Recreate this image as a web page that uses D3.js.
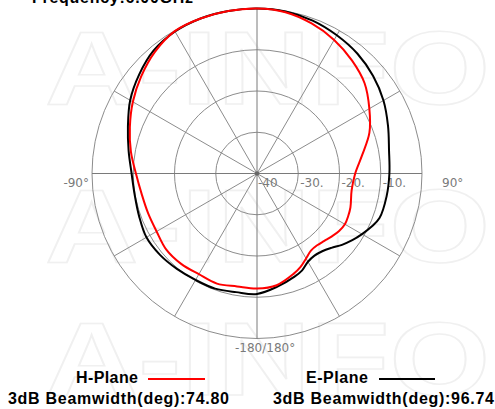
<!DOCTYPE html>
<html>
<head>
<meta charset="utf-8">
<script src="https://cdn.jsdelivr.net/npm/d3@7"></script>
<style>
  html, body { margin: 0; padding: 0; background: #ffffff; }
  svg { display: block; }
</style>
</head>
<body>
<svg id="chart" width="495" height="409"></svg>
<script>
// ---------------- data ----------------
const titleText = "Frequency:6.00GHz";
const angleDeg = [0, 10, 20, 30, 40, 50, 60, 70, 80, 90, 100, 110, 115, 120, 125, 130, 135, 140, 145, 150, 155, 160, 170, 180,
                  190, 200, 210, 220, 230, 240, 250, 260, 270, 280, 290, 300, 310, 320, 330, 340, 350];
const hPlaneDb = [0, -0.3, -1.3, -2.6, -4.2, -5.95, -8.55, -11.0, -14.1, -16.2, -16.7, -15.9, -15.6, -15.4, -15.7, -16.3, -16.9, -17.3, -17.2, -16.2, -15.0, -14.1, -12.5, -12.1,
                  -12.2, -11.6, -11.8, -11.4, -11.3, -11.9, -11.9, -11.6, -10.65, -8.95, -7.2, -5.25, -3.35, -1.5, -0.15, 0, 0];
const ePlaneDb = [0, -0.1, -0.55, -1.3, -2.1, -3.25, -4.6, -6.2, -7.5, -7.9, -8.1, -8.4, -9.4, -10.6, -11.8, -13.1, -14.5, -15.4, -15.7, -15.3, -14.1, -13.4, -12.1, -10.8,
                  -10.8, -10.3, -10.2, -9.8, -9.3, -9.05, -9.6, -9.9, -9.6, -8.4, -6.7, -4.5, -2.7, -1.05, -0.25, 0, 0];
const ringDb = [-30, -20, -10, 0];
const ringLabels = ["-40", "-30.", "-20.", "-10."];
const ringLabelDb = [-40, -30, -20, -10];
const spokeDeg = [0, 30, 60, 90, 120, 150, 180, 210, 240, 270, 300, 330];
const seriesNames = ["H-Plane", "E-Plane"];
const beamwidths = ["74.80", "96.74"];
const seriesColors = ["#ff0000", "#000000"];

// ---------------- layout ----------------
const svg = d3.select("#chart");
const cx = 257, cy = 173.5, R = 165;
const r = d3.scaleLinear().domain([-40, 0]).range([0, R]);
const rad = d => d * Math.PI / 180;

// faint watermark
const wm = svg.append("g");
[104, 262, 395].forEach(y => {
  wm.append("text")
    .attr("x", 45).attr("y", y)
    .attr("textLength", 445).attr("lengthAdjust", "spacingAndGlyphs")
    .style("font-family", "Liberation Sans, Arial, sans-serif")
    .style("font-weight", "bold").style("font-size", "104px")
    .attr("fill", "none").attr("stroke", "#f0f0f0").attr("stroke-width", 1.6)
    .text("A-INFO");
});

// title (cut off at the top, as in the reference)
svg.append("text").attr("x", 32).attr("y", 3)
  .style("font-family", "Liberation Sans, Arial, sans-serif")
  .style("font-weight", "bold").style("font-size", "16px")
  .attr("textLength", 161).attr("lengthAdjust", "spacing")
  .text(titleText);

const g = svg.append("g").attr("transform", `translate(${cx},${cy})`);

// rings
g.selectAll("circle.ring").data(ringDb).join("circle")
  .attr("class", "ring").attr("r", d => r(d))
  .attr("fill", "none").attr("stroke", "#8c8c8c").attr("stroke-width", 1);

// spokes
g.selectAll("line.spoke").data(spokeDeg).join("line")
  .attr("class", "spoke")
  .attr("x1", 0).attr("y1", 0)
  .attr("x2", d => R * Math.sin(rad(d)))
  .attr("y2", d => -R * Math.cos(rad(d)))
  .attr("stroke", d => d % 90 === 0 ? "#7a7a7a" : "#8c8c8c")
  .attr("stroke-width", 1);

g.append("circle").attr("r", 2.2).attr("fill", "#666");

// ring labels
g.selectAll("text.rl").data(ringLabelDb).join("text")
  .attr("class", "rl")
  .attr("x", (d, i) => r(d) + (i === 0 ? 1 : 2))
  .attr("y", 13.5)
  .style("font-family", "DejaVu Sans, sans-serif").style("font-size", "12px")
  .attr("fill", "#7a7a7a")
  .text((d, i) => ringLabels[i]);

// angle labels
const angStyle = sel => sel.style("font-family", "DejaVu Sans, sans-serif").style("font-size", "12px").attr("fill", "#7a7a7a");
g.append("text").attr("x", -R - 3).attr("y", 13.5).attr("text-anchor", "end").call(angStyle).text("-90°");
g.append("text").attr("x", R + 20).attr("y", 13.5).attr("text-anchor", "start").call(angStyle).text("90°");
g.append("text").attr("x", -22).attr("y", R + 13.5).attr("text-anchor", "start").call(angStyle).text("-180/180°");

// series
const line = d3.lineRadial()
  .angle(d => rad(d[0]))
  .radius(d => r(d[1]))
  .curve(d3.curveCatmullRomClosed.alpha(0.5));

const seriesData = [hPlaneDb, ePlaneDb];
[1, 0].forEach(i => {
  const pts = angleDeg.map((a, k) => [a, seriesData[i][k]]);
  g.append("path").attr("d", line(pts))
    .attr("fill", "none").attr("stroke", seriesColors[i]).attr("stroke-width", 2)
    .attr("stroke-linejoin", "round");
});

// legend
const legX = [76, 306];
const lineX = [[148, 205], [379, 435]];
const bwX = [8, 273];
const lg = svg.append("g")
  .style("font-family", "Liberation Sans, Arial, sans-serif")
  .style("font-weight", "bold").style("font-size", "16px");
seriesNames.forEach((name, i) => {
  lg.append("text").attr("x", legX[i]).attr("y", 383)
    .attr("textLength", 62).attr("lengthAdjust", "spacing").text(name);
  lg.append("line").attr("x1", lineX[i][0]).attr("x2", lineX[i][1])
    .attr("y1", 379).attr("y2", 379)
    .attr("stroke", seriesColors[i]).attr("stroke-width", 2);
  lg.append("text").attr("x", bwX[i]).attr("y", 404)
    .attr("textLength", 221).attr("lengthAdjust", "spacing")
    .text("3dB Beamwidth(deg):" + beamwidths[i]);
});
</script>
</body>
</html>
